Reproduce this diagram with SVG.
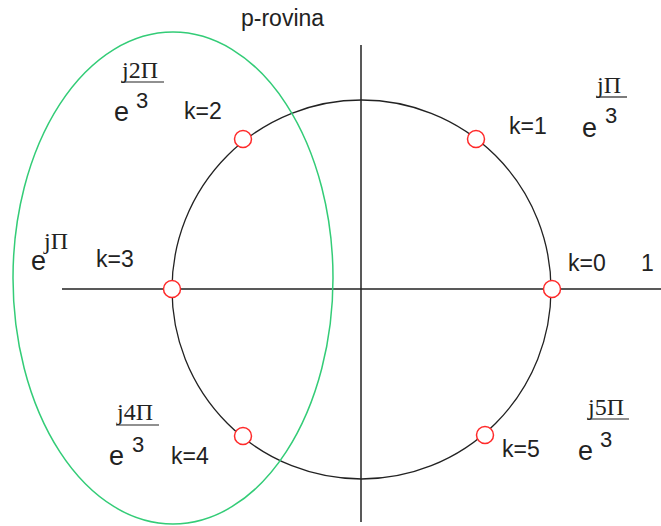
<svg xmlns="http://www.w3.org/2000/svg" width="661" height="526" viewBox="0 0 661 526">
<style>
.s{font-family:"Liberation Sans",Arial,sans-serif;fill:#222}
.k{font-size:23px}
.e{font-size:27px}
.d{font-size:22px}
.t{font-family:"Liberation Serif","Times New Roman",serif;font-size:24px;fill:#222}
.bar{stroke:#222;stroke-width:1.2}
.pt{fill:#fff;stroke:#ff2a2a;stroke-width:1.5}
</style>
<rect width="661" height="526" fill="#fff"/>
<g id="connectors">
<line x1="361" y1="45" x2="361" y2="522" stroke="#222" stroke-width="1.5"/>
<line x1="62" y1="289" x2="661" y2="289" stroke="#222" stroke-width="1.5"/>
</g>
<g id="unit-circle"><circle cx="361.5" cy="289.5" r="189.5" fill="none" stroke="#222" stroke-width="1.3"/></g>
<g id="region"><ellipse cx="173" cy="278" rx="160" ry="246" fill="none" stroke="#33cc77" stroke-width="1.5"/></g>
<g id="title"><text class="s k" x="241" y="26">p-rovina</text></g>
<g id="k0"><circle class="pt" cx="552" cy="289" r="8.5"/><text class="s k" x="568" y="271">k=0</text><text class="s k" x="641" y="271">1</text></g>
<g id="k1"><circle class="pt" cx="476" cy="139" r="8.5"/><text class="s k" x="509" y="134">k=1</text>
<text class="s e" x="582" y="137">e</text><text class="s d" x="605" y="123">3</text><text class="t" x="597" y="93">jΠ</text><line class="bar" x1="596" y1="97" x2="627" y2="97"/></g>
<g id="k2"><circle class="pt" cx="243" cy="139" r="8.5"/><text class="s k" x="184" y="119">k=2</text>
<text class="s e" x="114" y="121">e</text><text class="s d" x="136" y="108">3</text><text class="t" x="122" y="78">j2Π</text><line class="bar" x1="121" y1="82" x2="164" y2="82"/></g>
<g id="k3"><circle class="pt" cx="172" cy="289" r="8.5"/><text class="s k" x="96" y="267">k=3</text>
<text class="s e" x="31" y="270">e</text><text class="t" x="44" y="249">jΠ</text></g>
<g id="k4"><circle class="pt" cx="243" cy="436" r="8.5"/><text class="s k" x="171" y="464">k=4</text>
<text class="s e" x="109" y="465">e</text><text class="s d" x="132" y="452">3</text><text class="t" x="117" y="420">j4Π</text><line class="bar" x1="116" y1="425" x2="159" y2="425"/></g>
<g id="k5"><circle class="pt" cx="485" cy="435" r="8.5"/><text class="s k" x="502" y="457">k=5</text>
<text class="s e" x="578" y="460">e</text><text class="s d" x="600" y="447">3</text><text class="t" x="588" y="415">j5Π</text><line class="bar" x1="587" y1="419" x2="629" y2="419"/></g>
</svg>
